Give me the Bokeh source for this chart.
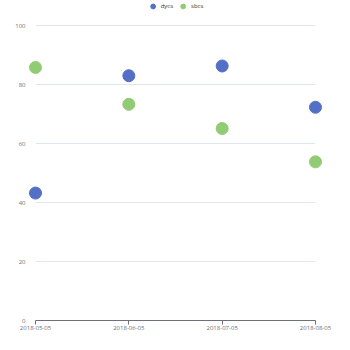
from bokeh.plotting import figure
from bokeh.models import Range1d, Legend, LegendItem, FixedTicker
from bokeh.embed import file_html
from bokeh.resources import INLINE

dates = ["2018-05-05", "2018-06-05", "2018-07-05", "2018-08-05"]
dycs = [43.2, 83.0, 86.3, 72.3]
sbcs = [85.8, 73.3, 65.1, 53.8]
y_ticks = [0, 20, 40, 60, 80, 100]

xs = list(range(len(dates)))

p = figure(width=350, height=350, output_backend="svg", toolbar_location=None,
           x_range=Range1d(0, len(dates) - 1), y_range=Range1d(0, 108.5),
           min_border_left=35, min_border_right=35, min_border_top=0, min_border_bottom=30)
p.outline_line_color = None
p.background_fill_color = "white"
p.border_fill_color = "white"

r1 = p.scatter(xs, dycs, size=12, color="#5470c6", level="overlay")
r2 = p.scatter(xs, sbcs, size=12, color="#91cc75", level="overlay")

p.xaxis.ticker = FixedTicker(ticks=xs)
p.xaxis.major_label_overrides = {i: d for i, d in enumerate(dates)}
p.xaxis.axis_line_color = "#6e7079"
p.xaxis.major_tick_line_color = "#6e7079"
p.xaxis.major_tick_in = 0
p.xaxis.major_tick_out = 4
p.xaxis.minor_tick_line_color = None
p.xaxis.major_label_text_font_size = "6px"
p.xaxis.major_label_text_color = "#6e7079"
p.xaxis.major_label_text_font = "Open Sans"
p.xaxis.major_label_standoff = 1

p.yaxis.ticker = FixedTicker(ticks=y_ticks)
p.yaxis.axis_line_color = None
p.yaxis.major_tick_line_color = None
p.yaxis.minor_tick_line_color = None
p.yaxis.major_label_text_font_size = "6px"
p.yaxis.major_label_text_color = "#6e7079"
p.yaxis.major_label_text_font = "Open Sans"
p.yaxis.major_label_standoff = 4

p.xgrid.grid_line_color = None
p.ygrid.grid_line_color = "#e0e6f1"
p.ygrid.ticker = FixedTicker(ticks=y_ticks)

legend = Legend(items=[LegendItem(label="dycs", renderers=[r1]),
                       LegendItem(label="sbcs", renderers=[r2])],
                orientation="horizontal", location="top_center",
                label_text_font_size="6px", label_text_color="#333333",
                label_text_font="Open Sans",
                glyph_width=12, glyph_height=12, spacing=4,
                padding=0, margin=0, border_line_color=None,
                background_fill_alpha=0, label_standoff=2,
                label_width=12, label_height=9)
p.add_layout(legend)

open("out.html", "w").write(file_html(p, INLINE))
